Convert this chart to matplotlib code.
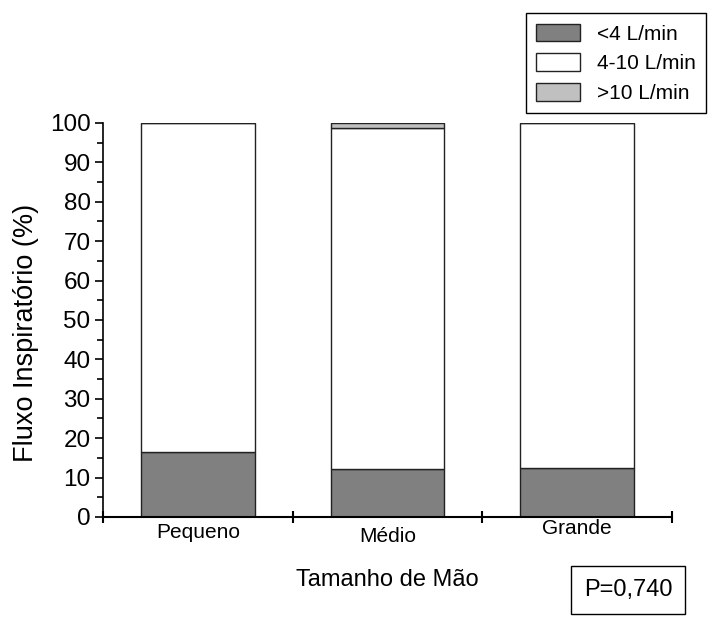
import matplotlib.pyplot as plt
from matplotlib.ticker import MultipleLocator

plt.rcParams['font.family'] = ['Liberation Sans', 'DejaVu Sans']

# data (percent of patients per hand size)
categories = ['Pequeno', 'Médio', 'Grande']
baixo = [16.5, 12.3, 12.5]        # <4 L/min
medio = [83.5, 86.4, 87.5]        # 4-10 L/min
alto = [0.0, 1.3, 0.0]            # >10 L/min
series_labels = ['<4 L/min', '4-10 L/min', '>10 L/min']
colors = ['#808080', '#ffffff', '#c0c0c0']
label_pads = [4, 7.5, 1.5]        # the category labels sit at uneven heights

fig = plt.figure(figsize=(7.08, 6.24), dpi=100)
ax = fig.add_axes([0.1455, 0.1715, 0.8035, 0.6315])

x = range(len(categories))
bottoms = [0.0] * len(categories)
handles = []
for vals, lab, col in zip([baixo, medio, alto], series_labels, colors):
    b = ax.bar(x, vals, width=0.6, bottom=bottoms, color=col,
               edgecolor='#222222', linewidth=1.0, label=lab)
    handles.append(b)
    bottoms = [bo + v for bo, v in zip(bottoms, vals)]

ax.set_xlim(-0.5, 2.5)
ax.set_ylim(0, 100)
ax.spines['top'].set_visible(False)
ax.spines['right'].set_visible(False)
ax.spines['left'].set_linewidth(1.2)
ax.spines['bottom'].set_linewidth(1.5)

ax.yaxis.set_major_locator(MultipleLocator(10))
ax.yaxis.set_minor_locator(MultipleLocator(5))
ax.tick_params(axis='y', which='major', direction='out', length=6, width=1.2,
               labelsize=17.5, pad=3)
ax.tick_params(axis='y', which='minor', direction='out', length=4, width=1.2)

# category boundaries as x ticks, labels at the centres
ax.set_xticks([-0.5, 0.5, 1.5, 2.5])
ax.set_xticklabels([])
ax.set_xticks(list(x), minor=True)
ax.set_xticklabels(categories, minor=True, fontsize=15)
ax.tick_params(axis='x', which='major', direction='inout', length=9, width=1.5)
ax.tick_params(axis='x', which='minor', length=0)
for t, p in zip(ax.xaxis.get_minor_ticks(), label_pads):
    t.set_pad(p)

ax.set_ylabel('Fluxo Inspiratório (%)', fontsize=19.5)
ax.yaxis.set_label_coords(-0.1125, 0.467)
ax.set_xlabel('Tamanho de Mão', fontsize=17, labelpad=16)

leg = fig.legend(handles=handles, loc='upper right',
                 bbox_to_anchor=(0.997, 0.979), borderaxespad=0, fontsize=15,
                 handlelength=2.1, handleheight=0.95, handletextpad=0.8,
                 labelspacing=0.45, borderpad=0.5, fancybox=False,
                 framealpha=1, edgecolor='black')
leg.get_frame().set_linewidth(1.0)

fig.text(0.887, 0.055, 'P=0,740', fontsize=17, ha='center', va='center',
         bbox=dict(boxstyle='square,pad=0.55', facecolor='white',
                   edgecolor='black', linewidth=1.0))

fig.savefig('out.png', dpi=100)
